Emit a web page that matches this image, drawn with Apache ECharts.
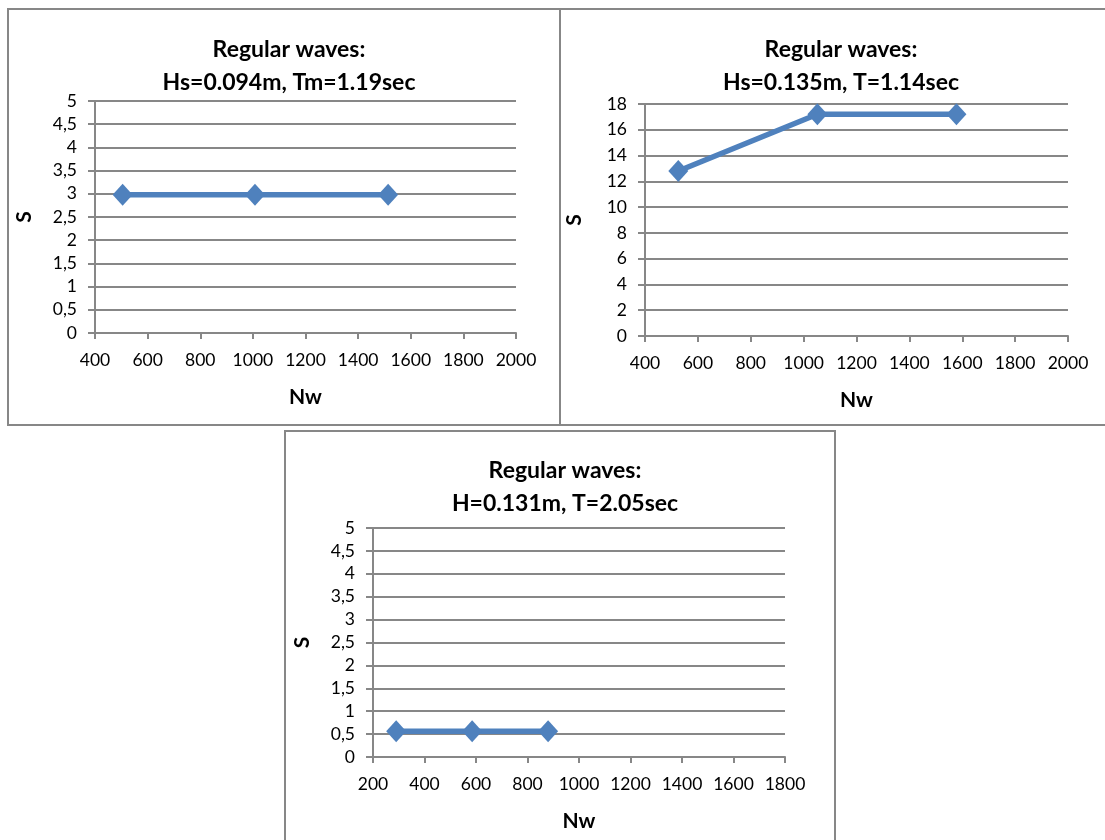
<!DOCTYPE html>
<html>
<head>
<meta charset="utf-8">
<script src="https://cdn.jsdelivr.net/npm/echarts@6/dist/echarts.min.js"></script>
<style>html,body{margin:0;padding:0;background:#fff;}#c{width:1105px;height:840px;}</style>
</head>
<body>
<div id="c"></div>
<script>
// Data
const titles = ['Regular waves:\nHs=0.094m, Tm=1.19sec', 'Regular waves:\nHs=0.135m, T=1.14sec', 'Regular waves:\nH=0.131m, T=2.05sec'];
const nw1 = [505, 1008, 1514];
const s1 = [2.98, 2.98, 2.98];
const nw2 = [526, 1052, 1578];
const s2 = [12.8, 17.2, 17.2];
const nw3 = [290, 585, 880];
const s3 = [0.56, 0.56, 0.56];
const xRanges = [[400, 2000, 200], [400, 2000, 200], [200, 1800, 200]];
const yRanges = [[0, 5, 0.5], [0, 18, 2], [0, 5, 0.5]];
const xName = 'Nw';
const yName = 'S';

const FONT = 'Lato, "Open Sans", sans-serif';
const GREY = '#878787';
const BLUE = '#4F81BD';

const grids = [
  {left: 95, top: 101, width: 421, height: 232},
  {left: 645, top: 104, width: 423, height: 232},
  {left: 373, top: 528, width: 412, height: 229}
];
const titlePos = [{x: 284, y: 28}, {x: 836, y: 28}, {x: 560, y: 449}];

function pairs(xs, ys) { return xs.map((x, i) => [x, ys[i]]); }
const seriesData = [pairs(nw1, s1), pairs(nw2, s2), pairs(nw3, s3)];

const option = {
  backgroundColor: '#fff',
  animation: false,
  title: titles.map((t, i) => ({
    text: t,
    left: titlePos[i].x,
    top: titlePos[i].y,
    textAlign: 'center',
    textStyle: {fontFamily: FONT, fontWeight: 'bold', fontSize: 23, lineHeight: 33, color: '#000'}
  })),
  grid: grids.map(g => Object.assign({containLabel: false}, g)),
  xAxis: xRanges.map((r, i) => ({
    type: 'value', gridIndex: i, min: r[0], max: r[1], interval: r[2],
    name: xName, nameLocation: 'middle', nameGap: 54,
    nameTextStyle: {fontFamily: FONT, fontWeight: 'bold', fontSize: 21, color: '#000'},
    axisLine: {show: true, onZero: false, lineStyle: {color: GREY, width: 2}},
    axisTick: {show: true, length: 6, lineStyle: {color: GREY, width: 2}},
    axisLabel: {fontFamily: FONT, fontSize: 17.5, color: '#000', margin: 18,
      formatter: v => String(v)},
    splitLine: {show: false}
  })),
  yAxis: yRanges.map((r, i) => ({
    type: 'value', gridIndex: i, min: r[0], max: r[1], interval: r[2],
    name: yName, nameLocation: 'middle', nameGap: 60, nameRotate: 90,
    nameTextStyle: {fontFamily: FONT, fontWeight: 'bold', fontSize: 21, color: '#000'},
    axisLine: {show: true, lineStyle: {color: GREY, width: 2}},
    axisTick: {show: true, length: 7, lineStyle: {color: GREY, width: 2}},
    axisLabel: {fontFamily: FONT, fontSize: 17.5, color: '#000', margin: 18,
      formatter: v => String(v).replace('.', ',')},
    splitLine: {show: true, lineStyle: {color: GREY, width: 2}}
  })),
  series: seriesData.map((d, i) => ({
    type: 'line', xAxisIndex: i, yAxisIndex: i, data: d,
    symbol: 'diamond', symbolSize: [20, 22], showSymbol: true,
    lineStyle: {color: BLUE, width: 5.5},
    itemStyle: {color: BLUE},
    z: 5
  })),
  graphic: [
    {type: 'rect', shape: {x: 8, y: 9, width: 552, height: 416}, style: {fill: 'none', stroke: GREY, lineWidth: 2}, silent: true},
    {type: 'rect', shape: {x: 560, y: 9, width: 546, height: 416}, style: {fill: 'none', stroke: GREY, lineWidth: 2}, silent: true},
    {type: 'rect', shape: {x: 285, y: 431, width: 550, height: 412}, style: {fill: 'none', stroke: GREY, lineWidth: 2}, silent: true}
  ]
};

const chart = echarts.init(document.getElementById('c'), null, {renderer: 'canvas'});
chart.setOption(option);
</script>
</body>
</html>
